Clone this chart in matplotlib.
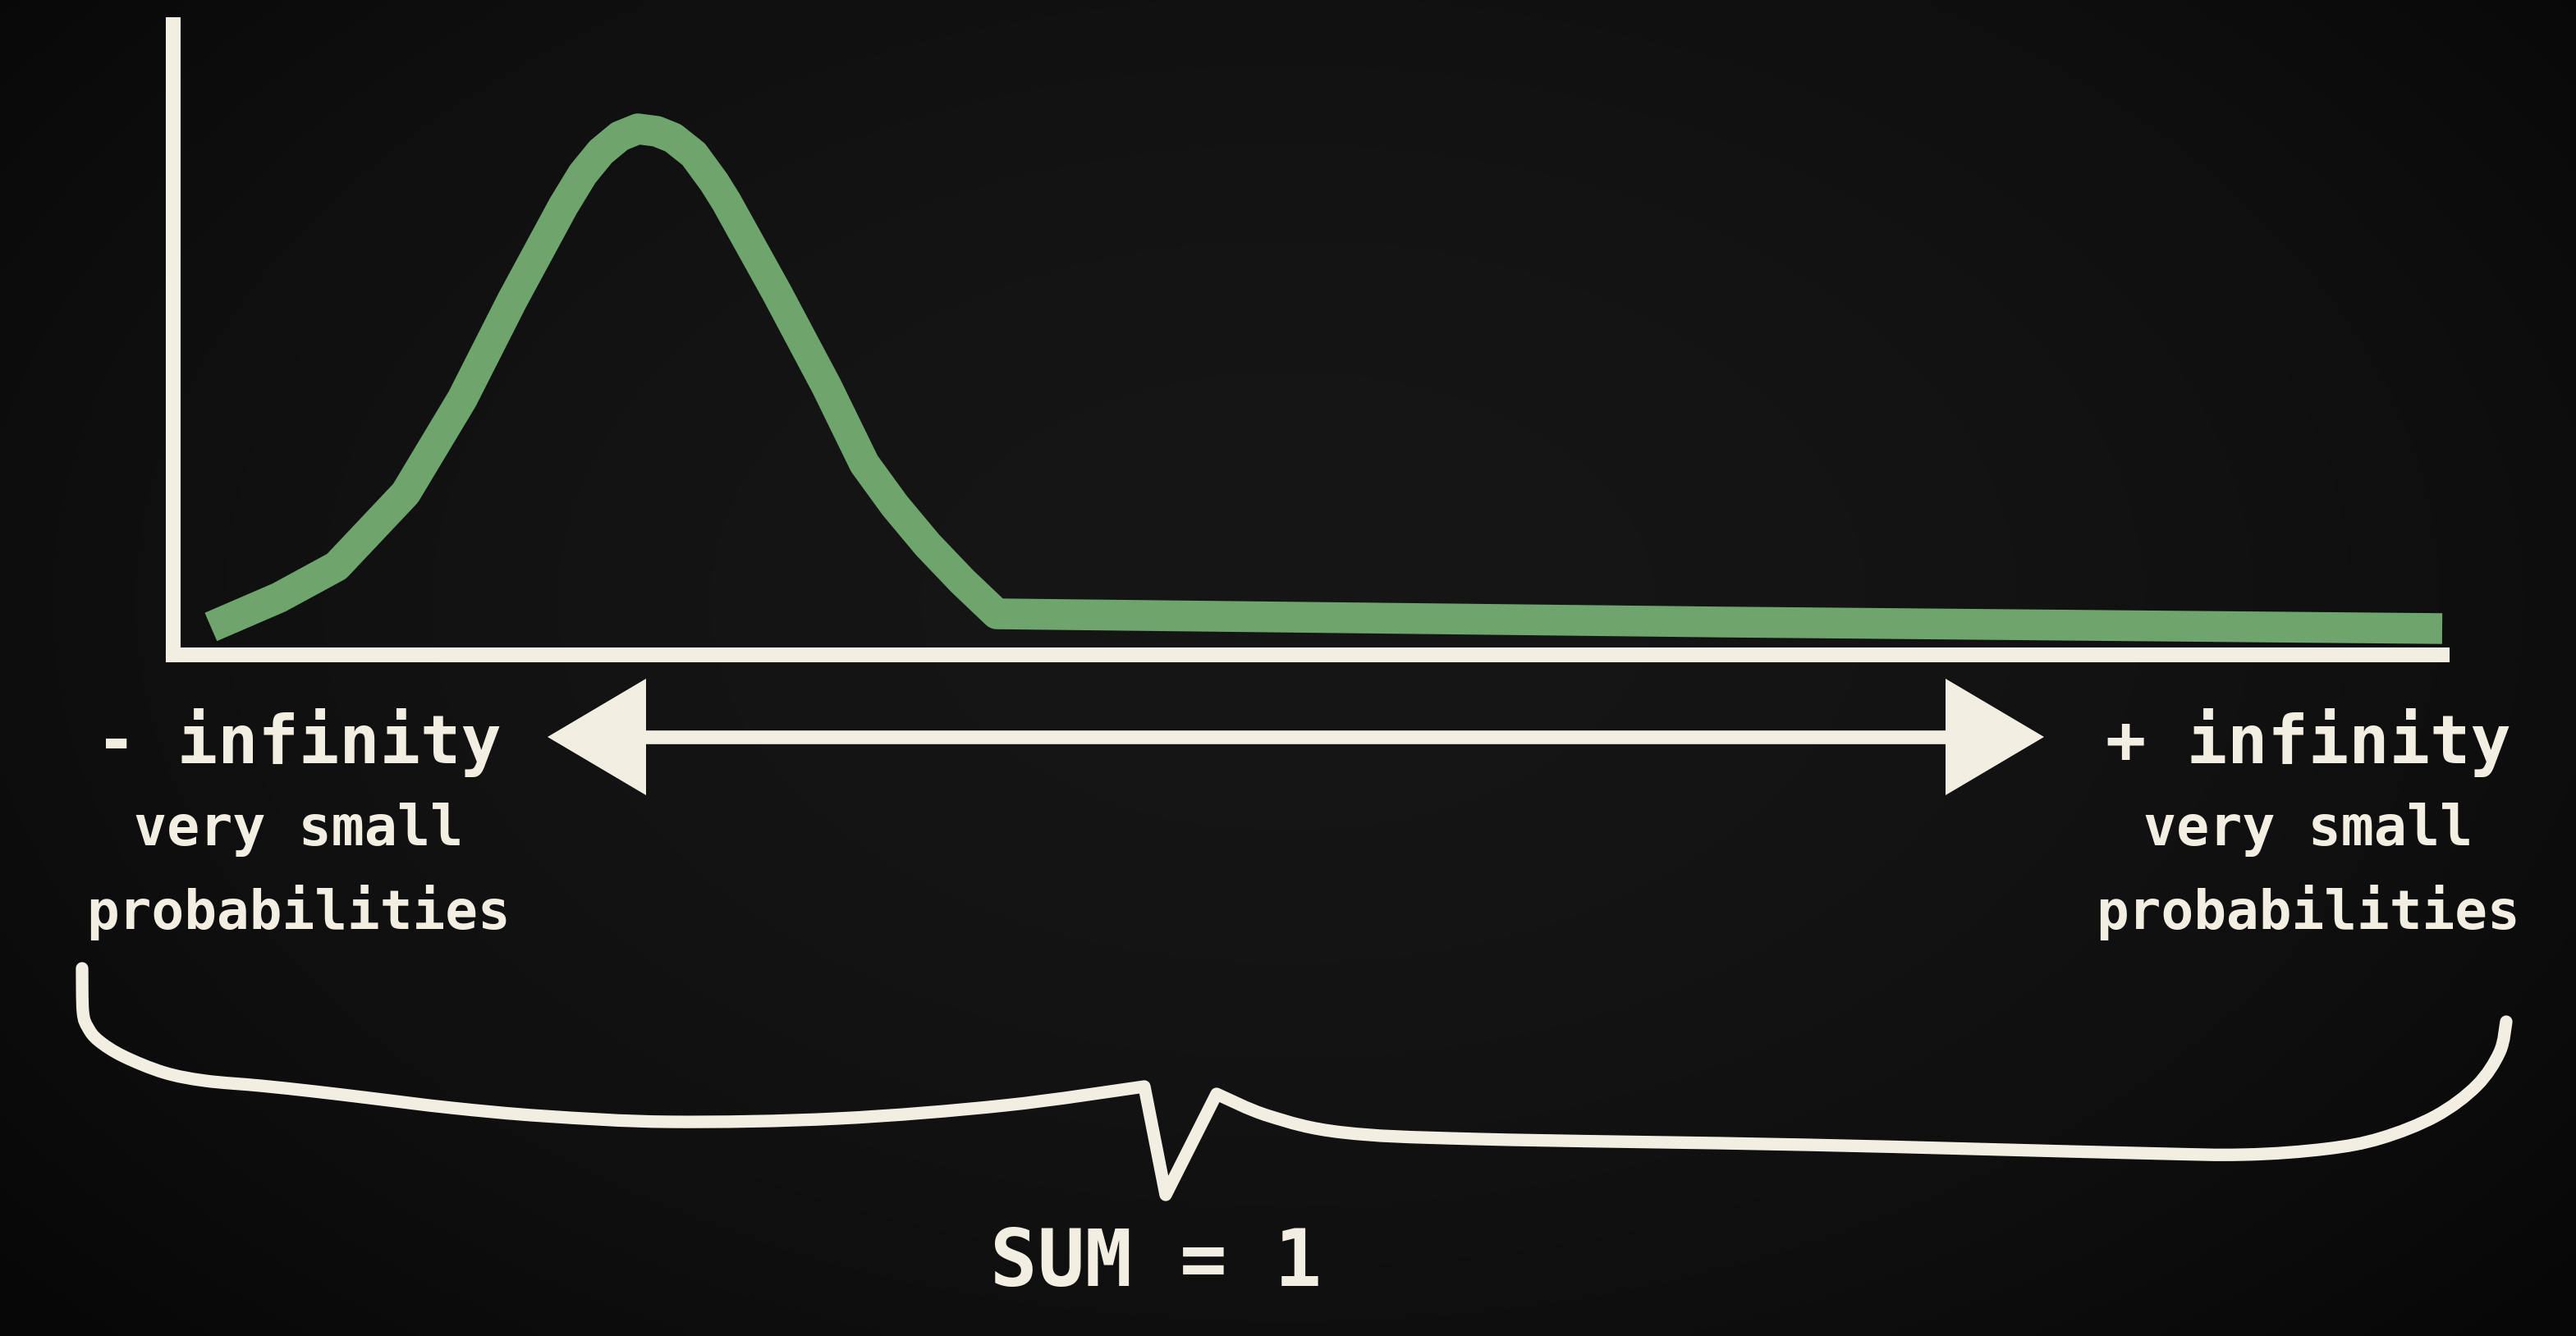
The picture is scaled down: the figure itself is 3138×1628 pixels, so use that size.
import numpy as np
import matplotlib
matplotlib.use("Agg")
import matplotlib.pyplot as plt
from matplotlib.patches import Polygon, PathPatch
from matplotlib.path import Path

# ---------------- data ----------------
# x: position along the horizontal axis (0 = left end, 100 = right end)
# density: height of the curve (0 = x-axis, 1 = top of the y-axis)
curve_x = [1.66, 4.67, 7.20, 10.24, 12.74, 14.94, 17.19, 18.05, 18.85, 19.68, 20.48,
           21.31, 22.03, 22.94, 23.84, 24.38, 26.59, 28.80, 30.46, 31.80, 33.25,
           34.77, 36.29, 68.34, 100.0]
curve_density = [0.0443, 0.0911, 0.1406, 0.2565, 0.4063, 0.5625, 0.7122, 0.7630, 0.7982,
                 0.8229, 0.8346, 0.8307, 0.8203, 0.7943, 0.7500, 0.7188, 0.5755, 0.4258,
                 0.3034, 0.2370, 0.1745, 0.1172, 0.0651, 0.0521, 0.0417]

left_labels = ["- infinity", "very small", "probabilities"]
right_labels = ["+ infinity", "very small", "probabilities"]
sum_label = "SUM = 1"

# ---------------- styling / layout ----------------
W, H, DPI = 3138, 1628, 100
CREAM = "#F2EFE2"
GREEN = "#6EA56C"
FONT = ["DejaVu Sans Mono", "DejaVu Sans"]

fig = plt.figure(figsize=(W / DPI, H / DPI), dpi=DPI)
fig.patch.set_facecolor("#111111")

# background with a soft vignette
ax_bg = fig.add_axes([0, 0, 1, 1], zorder=0)
yy, xx = np.mgrid[0:1:200j, 0:1:400j]
r = np.sqrt(((xx - 0.5) / 0.62) ** 2 + ((yy - 0.45) / 0.75) ** 2)
shade = np.clip(0.085 - 0.05 * r ** 2, 0.03, 0.09)
ax_bg.imshow(np.dstack([shade, shade, shade]), extent=[0, 1, 0, 1],
             aspect="auto", interpolation="bilinear")
ax_bg.axis("off")

# main axes (the hand drawn L-shaped axes), pixel extents of the plotting box
box_left, box_right, box_top, box_bottom = 211, 2975, 30, 798
ax = fig.add_axes([box_left / W, 1 - box_bottom / H,
                   (box_right - box_left) / W, (box_bottom - box_top) / H], zorder=2)
ax.set_facecolor("none")
ax.set_xlim(0, 100)
ax.set_ylim(0, 1)
for side in ["top", "right"]:
    ax.spines[side].set_visible(False)
for side in ["left", "bottom"]:
    ax.spines[side].set_color(CREAM)
    ax.spines[side].set_linewidth(13)
    ax.spines[side].set_capstyle("projecting")
ax.set_xticks([])
ax.set_yticks([])

ax.plot(curve_x, curve_density, color=GREEN, lw=27, solid_capstyle="butt",
        solid_joinstyle="round", clip_on=False, zorder=3)

# overlay in pixel coordinates for annotations
ov = fig.add_axes([0, 0, 1, 1], zorder=3)
ov.set_xlim(0, W)
ov.set_ylim(H, 0)
ov.axis("off")
ov.set_facecolor("none")

# double headed arrow
arrow_y = 898
arrow_tip_left, arrow_tip_right = 667, 2490
head_len, head_half = 120, 71
ov.plot([arrow_tip_left + head_len - 5, arrow_tip_right - head_len + 5], [arrow_y, arrow_y],
        color=CREAM, lw=12, solid_capstyle="butt")
ov.add_patch(Polygon([(arrow_tip_left, arrow_y),
                      (arrow_tip_left + head_len, arrow_y - head_half),
                      (arrow_tip_left + head_len, arrow_y + head_half)],
                     closed=True, color=CREAM, lw=0))
ov.add_patch(Polygon([(arrow_tip_right, arrow_y),
                      (arrow_tip_right - head_len, arrow_y - head_half),
                      (arrow_tip_right - head_len, arrow_y + head_half)],
                     closed=True, color=CREAM, lw=0))


# curly brace under everything (smooth arms, sharp V in the middle)
def smooth_segments(pts):
    P = np.asarray(pts, float)
    n = len(P)
    verts, codes = [], []
    for i in range(n - 1):
        p0 = P[i - 1] if i > 0 else P[i]
        p1, p2 = P[i], P[i + 1]
        p3 = P[i + 2] if i + 2 < n else P[i + 1]
        verts += [p1 + (p2 - p0) / 6.0, p2 - (p3 - p1) / 6.0, p2]
        codes += [Path.CURVE4] * 3
    return verts, codes


brace_left_arm = [(100, 1180), (101, 1233), (107, 1252), (120, 1268), (150, 1287),
                  (200, 1307), (250, 1317), (317, 1323), (383, 1330), (450, 1338),
                  (550, 1350), (663, 1360), (816, 1367), (1020, 1363), (1224, 1347),
                  (1394, 1324)]
brace_v_bottom = (1420, 1456)
brace_right_arm = [(1482, 1333), (1546, 1360), (1636, 1380), (1800, 1388), (2200, 1395),
                   (2600, 1405), (2733, 1407), (2833, 1400), (2900, 1387), (2967, 1360),
                   (3017, 1323), (3045, 1282), (3053, 1245)]

lv, lc = smooth_segments(brace_left_arm)
rv, rc = smooth_segments(brace_right_arm)
verts = [brace_left_arm[0]] + lv + [brace_v_bottom, brace_right_arm[0]] + rv
codes = [Path.MOVETO] + lc + [Path.LINETO, Path.LINETO] + rc
ov.add_patch(PathPatch(Path(verts, codes), fill=False, edgecolor=CREAM, lw=11,
                       capstyle="round", joinstyle="round"))

# labels
label_sizes = [59, 48, 47.5]
label_baselines = [930, 1030, 1132]
for txt, size, yb in zip(left_labels, label_sizes, label_baselines):
    ov.text(364, yb, txt, color=CREAM, fontsize=size, family=FONT, weight="bold",
            ha="center", va="baseline")
for txt, size, yb in zip(right_labels, label_sizes, label_baselines):
    ov.text(2812, yb, txt, color=CREAM, fontsize=size, family=FONT, weight="bold",
            ha="center", va="baseline")
ov.text(1408, 1567, sum_label, color=CREAM, fontsize=69, family=FONT, weight="bold",
        ha="center", va="baseline")

fig.savefig("out.png", dpi=DPI, facecolor=fig.get_facecolor())
